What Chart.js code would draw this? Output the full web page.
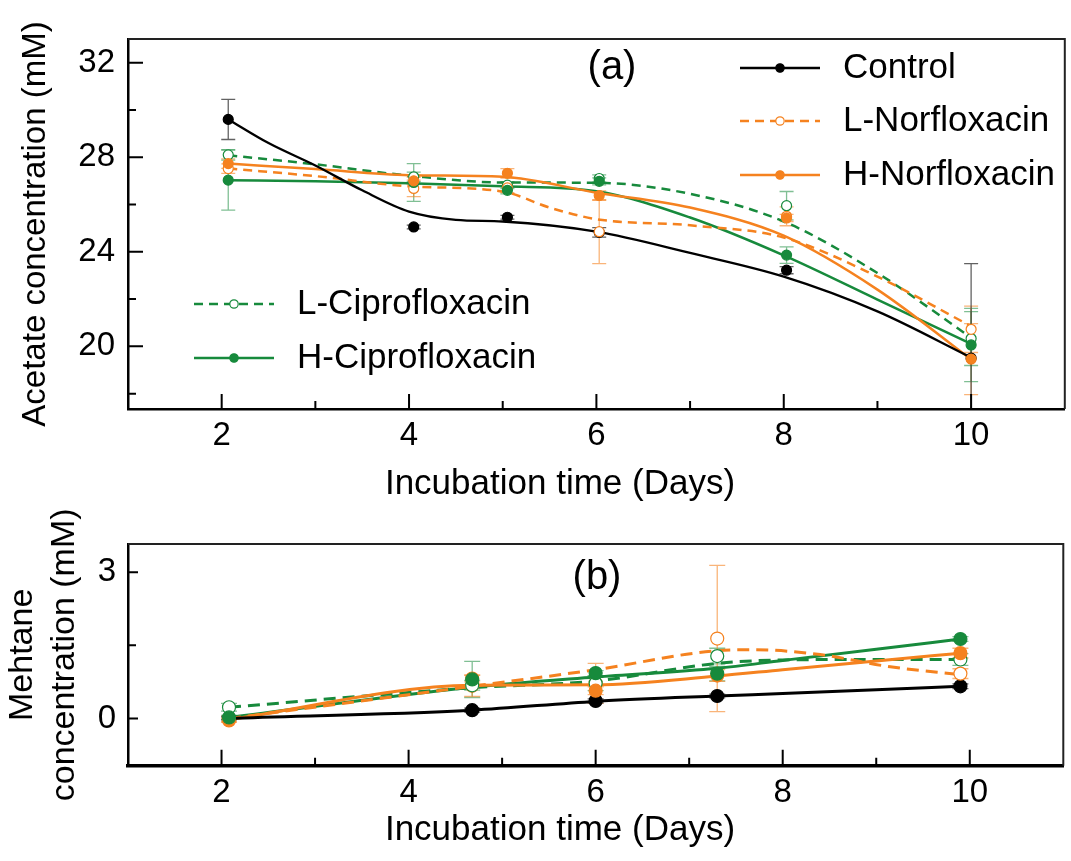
<!DOCTYPE html>
<html>
<head>
<meta charset="utf-8">
<script src="https://cdn.jsdelivr.net/npm/chart.js@4.4.0/dist/chart.umd.min.js"></script>
<style>
  html, body { margin: 0; padding: 0; background: #fff; }
  #wrapA { position: absolute; left: 0; top: 0; width: 1071px; height: 520px; }
  #wrapB { position: absolute; left: 0; top: 490px; width: 1071px; height: 371px; }
</style>
</head>
<body>
<div id="wrapA"><canvas id="chartA"></canvas></div>
<div id="wrapB"><canvas id="chartB"></canvas></div>
<script>
// ---------------- Panel (a): acetate ----------------
const daysA = [2.07, 4.05, 5.05, 6.03, 8.03, 10.0];
const acetateControl    = [29.6, 25.05, 25.46, 24.82, 23.22, 19.5];
const acetateControlErr = [0.85, 0.08, 0.08, 0.2, 0.15, 4.0];
const acetateLNor       = [27.52, 26.68, 26.7, 24.85, 25.5, 20.72];
const acetateLNorErr    = [0.2, 0.35, 0.2, 1.35, 0.4, 0.98];
const acetateHNor       = [27.73, 27.0, 27.32, 26.38, 25.43, 19.46];
const acetateHNorErr    = [0.2, 0.15, 0.2, 0.2, 0.15, 1.5];
const acetateLCip       = [28.1, 27.17, 26.82, 27.1, 25.95, 20.33];
const acetateLCipErr    = [0.22, 0.2, 0.15, 0.15, 0.6, 1.14];
const acetateHCip       = [27.03, 26.93, 26.6, 26.98, 23.86, 20.06];
const acetateHCipErr    = [1.27, 0.8, 0.15, 0.15, 0.35, 1.55];

// fitted curves
const controlCurveXA = [2.07, 2.5, 3, 3.5, 4, 4.5, 5, 6, 7, 8, 9, 10];
const controlCurveA  = [29.6, 28.6, 27.65, 26.6, 25.7, 25.35, 25.28, 24.85, 23.95, 22.95, 21.48, 19.53];
const lNorCurveXA    = [2.07, 3, 4, 5, 5.5, 6, 7, 8, 9, 10];
const lNorCurveA     = [27.52, 27.2, 26.77, 26.55, 25.87, 25.38, 25.12, 24.6, 22.95, 20.85];
const curveXA        = [2.07, 3, 4, 5, 6, 7, 8, 9, 10];
const hNorCurveA     = [27.73, 27.5, 27.24, 27.17, 26.5, 25.87, 24.68, 22.4, 19.45];
const lCipCurveA     = [28.08, 27.7, 27.22, 26.93, 26.92, 26.45, 25.28, 23.1, 20.37];
const hCipCurveA     = [27.03, 26.98, 26.9, 26.77, 26.56, 25.45, 23.85, 21.98, 20.1];

const xTicksA = [2, 3, 4, 5, 6, 7, 8, 9, 10];
const xMajorA = [2, 4, 6, 8, 10];
const yTicksA = [18, 20, 22, 24, 26, 28, 30, 32];
const yMajorA = [20, 24, 28, 32];

// ---------------- Panel (b): methane ----------------
const daysB = [2.08, 4.68, 6.0, 7.3, 9.9];
const methaneControl    = [0.0, 0.17, 0.36, 0.46, 0.66];
const methaneControlErr = [0.03, 0.04, 0.04, 0.04, 0.05];
const methaneLNor       = [-0.01, 0.67, 0.72, 1.64, 0.92];
const methaneLNorErr    = [0.05, 0.22, 0.41, 1.5, 0.1];
const methaneHNor       = [-0.04, 0.82, 0.57, 0.88, 1.34];
const methaneHNorErr    = [0.04, 0.07, 0.08, 0.12, 0.1];
const methaneLCip       = [0.23, 0.68, 0.72, 1.28, 1.21];
const methaneLCipErr    = [0.08, 0.1, 0.15, 0.16, 0.12];
const methaneHCip       = [0.02, 0.8, 0.93, 0.92, 1.63];
const methaneHCipErr    = [0.04, 0.37, 0.05, 0.15, 0.05];

const curveXB       = [2.08, 4.68, 6.0, 7.3, 8.0, 9.0, 9.9];
const controlCurveB = [0.0, 0.17, 0.35, 0.46, 0.51, 0.59, 0.66];
const hCipCurveB    = [0.02, 0.64, 0.85, 1.03, 1.19, 1.42, 1.63];
const hNorCurveB    = [-0.02, 0.68, 0.69, 0.87, 1.0, 1.18, 1.34];
const lCipCurveB    = [0.23, 0.63, 0.77, 1.13, 1.2, 1.21, 1.21];
const lNorCurveXB   = [2.08, 4.68, 6.0, 7.3, 7.7, 8.4, 9.15, 9.9];
const lNorCurveB    = [0.0, 0.66, 1.0, 1.39, 1.41, 1.31, 1.06, 0.9];

const xTicksB = [2, 3, 4, 5, 6, 7, 8, 9, 10];
const xMajorB = [2, 4, 6, 8, 10];
const yTicksB = [0, 1.5, 3];
const yMajorB = [0, 3];

const seriesNames = ['Control', 'L-Norfloxacin', 'H-Norfloxacin', 'L-Ciprofloxacin', 'H-Ciprofloxacin'];

// ---------------- styling ----------------
const BLACK = '#000000';
const ORANGE = '#f5821f';
const GREEN = '#178a3c';
const ERR_BLACK = 'rgba(70,70,70,0.85)';
const ERR_ORANGE = 'rgba(245,130,31,0.6)';
const ERR_GREEN = 'rgba(23,138,60,0.55)';
const FONT = "'Liberation Sans', Arial, Helvetica, sans-serif";

Chart.defaults.font.family = FONT;
Chart.defaults.color = '#000';

const xy = (xs, ys) => xs.map((x, i) => ({ x: x, y: ys[i] }));

function markerSet(label, xs, ys, errs, color, errColor, open, radius) {
  return {
    type: 'scatter', label: label, data: xy(xs, ys),
    errorBars: errs, errorColor: errColor,
    showLine: false, pointRadius: radius, pointHoverRadius: radius,
    pointBackgroundColor: open ? '#ffffff' : color,
    pointBorderColor: color, pointBorderWidth: 1.2, order: 0
  };
}
function curveSet(label, xs, ys, color, dash, width) {
  return {
    type: 'line', label: label + ' fit', data: xy(xs, ys),
    borderColor: color, borderWidth: width, borderDash: dash,
    pointRadius: 0, pointHoverRadius: 0, fill: false,
    cubicInterpolationMode: 'monotone', order: 1
  };
}

const decor = {
  id: 'decor',
  beforeDatasetsDraw(chart, args, o) {
    const ctx = chart.ctx, ca = chart.chartArea;
    const xs = chart.scales.x, ys = chart.scales.y;
    ctx.save();
    ctx.beginPath();
    ctx.rect(ca.left, ca.top, ca.right - ca.left, ca.bottom - ca.top);
    ctx.clip();
    chart.data.datasets.forEach(ds => {
      if (!ds.errorBars) return;
      ctx.strokeStyle = ds.errorColor;
      ctx.lineWidth = o.errWidth;
      ds.data.forEach((p, j) => {
        const e = ds.errorBars[j];
        const px = xs.getPixelForValue(p.x);
        const t = ys.getPixelForValue(p.y + e);
        const b = ys.getPixelForValue(p.y - e);
        ctx.beginPath();
        ctx.moveTo(px, t); ctx.lineTo(px, b);
        ctx.moveTo(px - o.cap, t); ctx.lineTo(px + o.cap, t);
        ctx.moveTo(px - o.cap, b); ctx.lineTo(px + o.cap, b);
        ctx.stroke();
      });
    });
    ctx.restore();
  },
  afterDraw(chart, args, o) {
    const ctx = chart.ctx, ca = chart.chartArea;
    ctx.save();
    // frame: top and right
    ctx.strokeStyle = '#222';
    ctx.lineWidth = o.frameWidth;
    ctx.beginPath();
    ctx.moveTo(ca.left, ca.top); ctx.lineTo(ca.right, ca.top); ctx.lineTo(ca.right, ca.bottom);
    ctx.stroke();
    // inward ticks
    ctx.strokeStyle = '#000';
    ctx.lineWidth = 2;
    const xs = chart.scales.x, ys = chart.scales.y;
    ctx.beginPath();
    xs.ticks.forEach(t => {
      const len = (t.label !== '' && t.label != null) ? o.majorLen : o.minorLen;
      const p = xs.getPixelForValue(t.value);
      ctx.moveTo(p, ca.bottom); ctx.lineTo(p, ca.bottom - len);
    });
    ys.ticks.forEach(t => {
      const len = (t.label !== '' && t.label != null) ? o.yMajorLen : o.yMinorLen;
      const p = ys.getPixelForValue(t.value);
      ctx.moveTo(ca.left, p); ctx.lineTo(ca.left + len, p);
    });
    ctx.stroke();
    // legend entries
    (o.legend || []).forEach(it => {
      ctx.strokeStyle = it.color;
      ctx.lineWidth = 2.5;
      ctx.setLineDash(it.dash);
      ctx.beginPath();
      ctx.moveTo(it.x, it.y); ctx.lineTo(it.x + 80, it.y);
      ctx.stroke();
      ctx.setLineDash([]);
      ctx.beginPath();
      ctx.arc(it.x + 40, it.y, 4.2, 0, Math.PI * 2);
      ctx.fillStyle = it.open ? '#fff' : it.color;
      ctx.fill();
      ctx.lineWidth = 1.2;
      ctx.stroke();
      ctx.fillStyle = '#000';
      ctx.font = '35px ' + FONT;
      ctx.textAlign = 'left';
      ctx.textBaseline = 'middle';
      ctx.fillText(it.text, it.x + 103, it.y);
    });
    // panel label
    ctx.fillStyle = '#000';
    ctx.font = '40px ' + FONT;
    ctx.textAlign = 'center';
    ctx.textBaseline = 'middle';
    ctx.fillText(o.panel.text, o.panel.x, o.panel.y);
    // x axis title
    ctx.font = '35px ' + FONT;
    ctx.fillText(o.xTitle.text, o.xTitle.x, o.xTitle.y);
    ctx.restore();
  }
};

function baseScales(xTicks, xMajor, yTicks, yMajor, yMin, yMax, yWidth, xHeight, xBorder, yTitle, yTitlePad, yTitleFont, yTickPad) {
  return {
    x: {
      type: 'linear', min: 1, max: 11,
      afterBuildTicks: s => { s.ticks = xTicks.map(v => ({ value: v })); },
      ticks: {
        callback: v => (xMajor.includes(v) ? String(v) : ''),
        font: { size: 33 }, color: '#000', padding: 7.5,
        autoSkip: false, maxRotation: 0, minRotation: 0
      },
      grid: { display: false, drawTicks: false },
      border: { display: true, color: '#000', width: xBorder },
      afterFit: s => { s.height = xHeight; }
    },
    y: {
      type: 'linear', min: yMin, max: yMax,
      afterBuildTicks: s => { s.ticks = yTicks.map(v => ({ value: v })); },
      ticks: {
        callback: v => (yMajor.includes(v) ? String(v) : ''),
        font: { size: 33 }, color: '#000', padding: yTickPad, autoSkip: false
      },
      grid: { display: false, drawTicks: false },
      border: { display: true, color: '#000', width: 2.5 },
      title: {
        display: true, text: yTitle, color: '#000',
        font: { size: yTitleFont, lineHeight: 1.25 },
        padding: { top: yTitlePad, bottom: 0 }
      },
      afterFit: s => { s.width = yWidth; }
    }
  };
}

// ---------------- Chart (a) ----------------
new Chart(document.getElementById('chartA'), {
  data: {
    datasets: [
      markerSet(seriesNames[2], daysA, acetateHNor, acetateHNorErr, ORANGE, ERR_ORANGE, false, 5),
      markerSet(seriesNames[4], daysA, acetateHCip, acetateHCipErr, GREEN, ERR_GREEN, false, 5),
      markerSet(seriesNames[1], daysA, acetateLNor, acetateLNorErr, ORANGE, ERR_ORANGE, true, 5),
      markerSet(seriesNames[3], daysA, acetateLCip, acetateLCipErr, GREEN, ERR_GREEN, true, 5),
      markerSet(seriesNames[0], daysA, acetateControl, acetateControlErr, BLACK, ERR_BLACK, false, 5),
      curveSet(seriesNames[0], controlCurveXA, controlCurveA, BLACK, [], 2.3),
      curveSet(seriesNames[1], lNorCurveXA, lNorCurveA, ORANGE, [9, 6], 2.5),
      curveSet(seriesNames[2], curveXA, hNorCurveA, ORANGE, [], 2.5),
      curveSet(seriesNames[3], curveXA, lCipCurveA, GREEN, [9, 6], 2.5),
      curveSet(seriesNames[4], curveXA, hCipCurveA, GREEN, [], 2.5)
    ]
  },
  options: {
    responsive: true, maintainAspectRatio: false, animation: false, events: [],
    layout: { padding: { left: 0, right: 2, top: 39, bottom: 0 } },
    scales: baseScales(xTicksA, xMajorA, yTicksA, yMajorA, 17.35, 33, 128, 111, 2.5,
                       'Acetate concentration (mM)', 15, 33, 13),
    plugins: {
      legend: { display: false },
      tooltip: { enabled: false },
      decor: {
        errWidth: 1.3, cap: 7, frameWidth: 2,
        majorLen: 15, minorLen: 8, yMajorLen: 15, yMinorLen: 8,
        panel: { text: '(a)', x: 612, y: 68 },
        xTitle: { text: 'Incubation time (Days)', x: 560, y: 484 },
        legend: [
          { text: seriesNames[0], color: BLACK, dash: [], open: false, x: 740, y: 68 },
          { text: seriesNames[1], color: ORANGE, dash: [9, 6], open: true, x: 740, y: 121 },
          { text: seriesNames[2], color: ORANGE, dash: [], open: false, x: 740, y: 175 },
          { text: seriesNames[3], color: GREEN, dash: [9, 6], open: true, x: 194, y: 304 },
          { text: seriesNames[4], color: GREEN, dash: [], open: false, x: 194, y: 358 }
        ]
      }
    }
  },
  plugins: [decor]
});

// ---------------- Chart (b) ----------------
new Chart(document.getElementById('chartB'), {
  data: {
    datasets: [
      markerSet(seriesNames[4], daysB, methaneHCip, methaneHCipErr, GREEN, ERR_GREEN, false, 6.5),
      markerSet(seriesNames[2], daysB, methaneHNor, methaneHNorErr, ORANGE, ERR_ORANGE, false, 6.5),
      markerSet(seriesNames[3], daysB, methaneLCip, methaneLCipErr, GREEN, ERR_GREEN, true, 6.5),
      markerSet(seriesNames[1], daysB, methaneLNor, methaneLNorErr, ORANGE, ERR_ORANGE, true, 6.5),
      markerSet(seriesNames[0], daysB, methaneControl, methaneControlErr, BLACK, ERR_BLACK, false, 6.5),
      curveSet(seriesNames[0], curveXB, controlCurveB, BLACK, [], 3),
      curveSet(seriesNames[1], lNorCurveXB, lNorCurveB, ORANGE, [12, 7], 3),
      curveSet(seriesNames[2], curveXB, hNorCurveB, ORANGE, [], 3),
      curveSet(seriesNames[3], curveXB, lCipCurveB, GREEN, [12, 7], 3),
      curveSet(seriesNames[4], curveXB, hCipCurveB, GREEN, [], 3)
    ]
  },
  options: {
    responsive: true, maintainAspectRatio: false, animation: false, events: [],
    layout: { padding: { left: 0, right: 4, top: 54, bottom: 0 } },
    scales: baseScales(xTicksB, xMajorB, yTicksB, yMajorB, -0.97, 3.58, 128, 95.3, 3.5,
                       ['Mehtane', 'concentration (mM)'], 1, 34, 12),
    plugins: {
      legend: { display: false },
      tooltip: { enabled: false },
      decor: {
        errWidth: 1.3, cap: 8, frameWidth: 2,
        majorLen: 16, minorLen: 8, yMajorLen: 10, yMinorLen: 8,
        panel: { text: '(b)', x: 597, y: 88 },
        xTitle: { text: 'Incubation time (Days)', x: 560, y: 340 },
        legend: []
      }
    }
  },
  plugins: [decor]
});
</script>
</body>
</html>
